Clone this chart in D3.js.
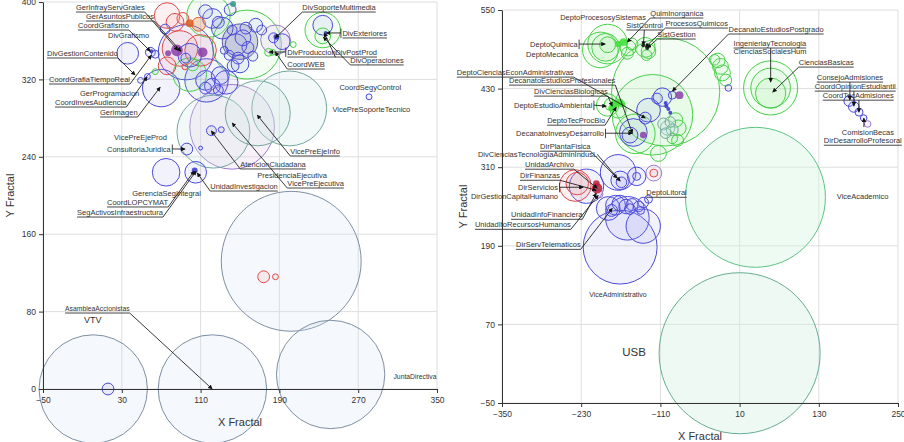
<!DOCTYPE html>
<html>
<head>
<meta charset="utf-8">
<script src="https://cdn.jsdelivr.net/npm/d3@7"></script>
<style>
body { margin: 0; background: #fff; }
svg text { font-family: "Liberation Sans", Arial, sans-serif; fill: #333; }
.tick text { font-size: 8.5px; fill: #333; }
.tick line, .domain { stroke: #333; }
.grid line { stroke: #dedede; stroke-width: 1; }
</style>
</head>
<body>
<svg id="chart" width="904" height="442"></svg>
<script>
// Ticks
var leftXTicks = [-50, 30, 110, 190, 270, 350];
var leftYTicks = [0, 80, 160, 240, 320, 400];
var rightXTicks = [-350, -230, -110, 10, 130, 250];
var rightYTicks = [-50, 70, 190, 310, 430, 550];

// Left panel bubbles: [x fractal, y fractal, radius]
var leftGray = [[1, 0, 55], [122, 0, 55], [242, 15, 55], [202, 132, 71]];
var leftTeal = [[200, 290, 38], [168, 285, 33], [123, 266, 37]];
var leftPurple = [[142, 271, 43], [186, 361, 15]];
var leftSlate = [[150, 359, 18]];
var leftBlue = [
  [16, 0, 6], [121, 267, 5], [131, 268, 3], [96, 248, 6], [110, 249, 2], [75, 224, 14], [105, 224, 11], [281, 302, 3],
  [36, 347, 11], [59, 348, 5], [64, 346, 4], [49, 319, 3], [56, 323, 3], [70, 311, 19],
  [95, 348, 28], [99, 345, 12], [95, 342, 5], [74, 372, 5], [122, 383, 10], [115, 390, 7], [140, 392, 6],
  [132, 373, 11], [128, 379, 6], [146, 356, 11], [153, 363, 8], [158, 353, 6], [139, 345, 5], [134, 350, 4],
  [163, 344, 5], [148, 342, 6], [156, 373, 6], [142, 371, 5], [166, 376, 7], [172, 371, 5],
  [193, 359, 8], [184, 363, 5], [150, 336, 9], [143, 334, 6], [115, 319, 10], [122, 313, 8], [130, 324, 9],
  [136, 317, 12], [128, 309, 5], [115, 311, 6], [116, 319, 22], [234, 376, 10]
];
var leftGreen = [[64, 328, 3], [118, 386, 22], [157, 356, 35], [99, 325, 17], [102, 335, 6], [179, 348, 4],
  [183, 348, 3], [204, 356, 3], [234, 371, 18], [234, 365, 8]];
var leftRed = [[174, 116, 6], [186, 116, 3], [76, 386, 13], [84, 379, 9], [92, 383, 6], [89, 352, 18],
  [110, 350, 16], [76, 334, 9], [94, 333, 3]];
var leftOrange = [[108, 377, 7]];
var leftDots = [[104, 226, 3, "b"], [86, 350, 6, "p"], [112, 348, 5, "p"], [77, 347, 3, "p"], [99, 378, 4, "o"],
  [143, 398, 3, "t"], [187, 364, 3, "b"], [237, 368, 2, "b"], [60, 349, 2, "b"]];

// Right panel bubbles
var rightUsb = [[10, 26, 122]];
var rightAcad = [[34, 264, 106]];
var rightGreen = [
  [-102, 425, 82], [-122, 390, 61], [-148, 361, 30], [-190, 498, 30], [-193, 493, 21], [-190, 497, 12],
  [-201, 489, 27], [-159, 492, 12], [-153, 498, 9], [-160, 484, 9], [-133, 493, 15], [-128, 487, 11],
  [-131, 481, 8], [-190, 405, 17], [-186, 406, 9], [-174, 397, 12], [-87, 382, 11], [-83, 370, 12],
  [-84, 351, 9], [-92, 354, 8], [-23, 473, 11], [-19, 464, 12], [-16, 454, 12], [-11, 443, 9], [-28, 474, 8],
  [57, 431, 41], [57, 431, 30], [57, 423, 23], [-113, 331, 12]
];
var rightTeal = [[-105, 376, 9], [-99, 370, 11], [-102, 362, 8], [-92, 367, 9], [-95, 379, 8]];
var rightBlue = [
  [-171, 188, 56], [-128, 397, 18], [-133, 385, 9], [-151, 363, 21], [-156, 359, 12], [-107, 417, 14],
  [-115, 415, 8], [-92, 420, 6], [-7, 431, 5], [176, 411, 8], [183, 402, 8], [191, 394, 6], [198, 385, 5],
  [-222, 281, 26], [-174, 302, 27], [-171, 290, 14], [-169, 287, 8], [-146, 296, 14], [-146, 296, 6],
  [-189, 247, 18], [-178, 252, 15], [-171, 255, 12], [-162, 250, 11], [-153, 253, 9], [-143, 250, 8],
  [-136, 256, 8], [-128, 261, 6], [-140, 244, 6], [-156, 246, 8], [-184, 244, 9], [-136, 220, 26], [-160, 232, 33]
];
var rightRed = [[-239, 282, 24], [-236, 285, 17], [-120, 301, 6]];
var rightPurple = [[-120, 301, 12], [204, 376, 5], [-203, 269, 6]];
var rightDots = [[-166, 501, 6, "l"], [-174, 498, 5, "l"], [-180, 406, 6, "l"], [-172, 409, 6, "l"],
  [-168, 406, 5, "l"], [-184, 400, 5, "l"], [-136, 359, 5, "p"], [-81, 420, 6, "p"], [-102, 408, 3, "b"],
  [-101, 403, 3, "b"], [-98, 399, 3, "b"], [-95, 393, 3, "b"], [-206, 278, 8, "r"], [-207, 285, 5, "r"],
  [-136, 496, 3, "k"], [-130, 492, 3, "k"]];

// Labels: [text, x, y, style, targetX, targetY, startX]
// style: u = underlined, r/l = leader from right/left end, m = leader from startX,
// R/L = bar then arrow on right/left side, M = leader from startX above the text
var leftLabels = [
  ["GerInfrayServGrales", -16.5, 391.7, "ur", 87, 350],
  ["GerAsuntosPublicos", -6.3, 382.4, "ur", 90, 349],
  ["CoordGrafismo", -14.4, 373.1, "ur", 59, 349],
  ["DivGrafismo", 16, 362.8, ""],
  ["DivGestionContenido", -45.9, 344.2, "ur", 43.5, 324.5],
  ["CoordGrafiaTiempoReal", -43.9, 317.3, "ur", 60, 345],
  ["GerProgramacion", -12.4, 302.8, ""],
  ["CoordInvesAudiencia", -37.8, 293.5, "ur", 55.7, 322.5],
  ["GerImagen", 7.9, 283.2, "ur", 69, 312],
  ["VicePreEjeProd", 22.2, 257.4, ""],
  ["ConsultoriaJuridica", 15, 245, "R", 94.3, 248],
  ["GerenciaSegIntegral", 40.5, 199.5, ""],
  ["CoordLOPCYMAT", 15, 190.2, "ur", 103.5, 225.3],
  ["SegActivosInfraestructura", -15.4, 179.8, "ur", 105.5, 225.3],
  ["UnidadInvestigacion", 119.8, 206.7, "ul", 106.5, 223.3],
  ["AtencionCiudadana", 150.3, 229.5, "ul", 120.8, 266.7],
  ["PresidenciaEjecutiva", 167.5, 218.1, ""],
  ["VicePreEjecutiva", 198, 209.8, "ul", 142, 275],
  ["VicePreEjeInfo", 201.1, 242.9, "ul", 167.5, 283.2],
  ["DivSoporteMultimedia", 213.3, 391.7, "ul", 185.8, 362.8],
  ["DivExteriores", 254, 364.9, "uL", 237.7, 368],
  ["DivProduccion", 198, 345.2, "uL", 179.7, 348.3],
  ["DivPostProd", 246.8, 345.2, "ul", 235.6, 368],
  ["DivOperaciones", 262, 337, "ul", 234.6, 363.8],
  ["CoordWEB", 198, 332.8, "ul", 185.8, 348.3],
  ["CoordSegyControl", 250.9, 309, ""],
  ["VicePreSoporteTecnico", 243.8, 286.3, ""],
  ["AsambleaAccionistas", -27.6, 80.6, "ur", 121.8, 0],
  ["VTV", -8.3, 68.2, ""],
  ["JuntaDirectiva", 305.8, 10.3, ""]
];
var rightLabels = [
  ["DeptoProcesosySistemas", -261.9, 534.7, ""],
  ["QuimInorganica", -125.2, 540.8, "ul", -160.1, 501],
  ["ProcesosQuimicos", -102.4, 525.5, "ul", -132.8, 493.4],
  ["SistControl", -161.6, 522.5, "um", -135.8, 496, -134.3],
  ["SistGestion", -114.6, 508.7, "ul", -129.7, 491.9],
  ["DeptoQuimica", -307.5, 493.4, "R", -193.5, 498],
  ["DeptoMecanica", -313.5, 478.1, ""],
  ["DeptoCienciasEconAdministrativas", -418.4, 450.6, "ur", -132.8, 384.9],
  ["DecanatoEstudiosProfesionales", -339.4, 438.4, "ur", -152.5, 361.9],
  ["DivCienciasBiologicas", -301.4, 421.6, "ur", -182.9, 403.2],
  ["DeptoEstudioAmbiental", -331.8, 400.2, "R", -192, 403.2],
  ["DeptoTecProcBio", -281.6, 377.2, "ur", -176.8, 401.7],
  ["DecanatoInvesyDesarrollo", -328.7, 357.3, "R", -152.5, 361.9],
  ["DirPlantaFisica", -292.3, 337.5, "ur", -175.3, 293.1],
  ["DivCienciasTecnologiaAdminIndusL", -386.5, 325.2, "r", -170.8, 288.5],
  ["UnidadArchivo", -315.1, 310, "ur", -205.7, 277.8],
  ["DirFinanzas", -322.7, 293.1, "ur", -207.2, 274.8],
  ["DirServicios", -325.7, 274.8, "R", -227, 279.4],
  ["DirGestionCapitalHumano", -397.1, 261, ""],
  ["UnidadInfoFinanciera", -336.3, 233.5, "ur", -207.2, 270.2],
  ["UnidadIfoRecursosHumanos", -391, 218.2, "ur", -204.2, 267.1],
  ["DirServTelematicos", -328.7, 187.6, "ur", -182.9, 247.3],
  ["DeptoLitoral", -131.3, 267.1, "u"],
  ["ViceAdministrativo", -217.8, 111.2, ""],
  ["USB", -167.7, 22.5, ""],
  ["ViceAcademico", 157.3, 261, ""],
  ["DecanatoEstudiosPostgrado", -6.7, 516.4, "ul", -91.8, 426.2],
  ["IngenieriayTecnologia", 0.9, 495, "um", 57.1, 439.9, 57.1],
  ["CienciasSocialesHum", 0.9, 482.7, ""],
  ["CienciasBasicas", 99.6, 465.9, "ul", 60.1, 424.6],
  ["ConsejoAdmisiones", 127, 443, "um", 177.1, 412.4, 177.1],
  ["CoordOpinionEstudiantil", 124, 429.2, "um", 183.2, 403.2, 183.2],
  ["CoordTecAdmisiones", 136.1, 415.4, "um", 190.8, 394, 190.8],
  ["ComisionBecas", 164.9, 358.9, "M", 198.3, 385, 198.3],
  ["DirDesarrolloProfesoral", 137.6, 346.6, "u"]
];

var labelSize = { VTV: 9, USB: 11.5, AsambleaAccionistas: 6.8, JuntaDirectiva: 6.8, ViceAdministrativo: 7 };

var ringStyle = {
  gray:   { stroke: "#7e8fa4", fill: "rgba(214,225,244,0.24)" },
  teal:   { stroke: "#72a89e", fill: "rgba(210,232,228,0.26)" },
  purple: { stroke: "#9d7bcb", fill: "rgba(232,210,240,0.32)" },
  slate:  { stroke: "#5a5aa6", fill: "rgba(110,110,165,0.28)" },
  blue:   { stroke: "#4a4ad8", fill: "rgba(135,135,240,0.11)" },
  green:  { stroke: "#48d048", fill: "rgba(140,232,140,0.10)" },
  red:    { stroke: "#e04a4a", fill: "rgba(240,140,140,0.13)" },
  orange: { stroke: "#e8622c", fill: "rgba(240,130,80,0.30)" },
  usb:    { stroke: "#66ad92", fill: "rgba(212,240,227,0.40)" },
  acad:   { stroke: "#5cc483", fill: "rgba(212,246,224,0.40)" }
};
var dotFill = { l: "#3fe03a", p: "#8a3fa6", b: "#3434c8", r: "#b8203c", o: "#e05a20", t: "#2a9a8a", k: "#111" };

var svg = d3.select("#chart");

svg.append("defs").append("marker")
    .attr("id", "arrow")
    .attr("viewBox", "0 0 10 10")
    .attr("refX", 9).attr("refY", 5)
    .attr("markerWidth", 5).attr("markerHeight", 5)
    .attr("orient", "auto")
  .append("path")
    .attr("d", "M0,0L10,5L0,10z")
    .attr("fill", "#111");

function drawPanel(p) {
  var x = d3.scaleLinear().domain(p.xDomain).range(p.xRange);
  var y = d3.scaleLinear().domain(p.yDomain).range(p.yRange);
  var rad = function(v) { return Math.abs(x(v) - x(0)); };
  var g = svg.append("g");

  // gridlines
  var grid = g.append("g").attr("class", "grid");
  grid.selectAll("line.v").data(p.xTicks).join("line")
      .attr("class", "v")
      .attr("x1", d => x(d)).attr("x2", d => x(d))
      .attr("y1", p.yRange[0]).attr("y2", p.yRange[1]);
  grid.selectAll("line.h").data(p.yTicks).join("line")
      .attr("class", "h")
      .attr("x1", p.xRange[0]).attr("x2", p.xRange[1])
      .attr("y1", d => y(d)).attr("y2", d => y(d));

  // bubbles, largest first
  var bubbles = [];
  p.groups.forEach(function(grp) {
    grp[1].forEach(function(d) { bubbles.push({ kind: grp[0], x: d[0], y: d[1], r: d[2] }); });
  });
  bubbles.sort((a, b) => b.r - a.r);

  g.append("g").selectAll("circle").data(bubbles).join("circle")
      .attr("cx", d => x(d.x))
      .attr("cy", d => y(d.y))
      .attr("r", d => rad(d.r))
      .attr("fill", d => ringStyle[d.kind].fill)
      .attr("stroke", d => ringStyle[d.kind].stroke)
      .attr("stroke-width", 1);

  g.append("g").selectAll("circle").data(p.dots).join("circle")
      .attr("cx", d => x(d[0]))
      .attr("cy", d => y(d[1]))
      .attr("r", d => rad(d[2]))
      .attr("fill", d => dotFill[d[3]])
      .attr("fill-opacity", 0.85);

  // axes
  g.append("g")
      .attr("transform", "translate(0," + p.yRange[0] + ")")
      .call(d3.axisBottom(x).tickValues(p.xTicks).tickSize(4).tickSizeOuter(0).tickPadding(4));
  g.append("g")
      .attr("transform", "translate(" + p.xRange[0] + ",0)")
      .call(d3.axisLeft(y).tickValues(p.yTicks).tickSize(4).tickSizeOuter(0).tickPadding(3));

  var xMid = (p.xRange[0] + p.xRange[1]) / 2;
  var yMid = (p.yRange[0] + p.yRange[1]) / 2;
  g.append("text")
      .attr("x", xMid).attr("y", p.xTitleY)
      .attr("text-anchor", "middle")
      .style("font-size", "11px")
      .text("X Fractal");
  g.append("text")
      .attr("transform", "translate(" + p.yTitleX + "," + yMid + ") rotate(-90)")
      .attr("text-anchor", "middle")
      .style("font-size", "11px")
      .text("Y Fractal");

  // labels with leader lines
  var lg = g.append("g");
  p.labels.forEach(function(l) {
    var x0 = x(l[1]), y0 = y(l[2]), style = l[3];
    var t = lg.append("text")
        .attr("x", x0).attr("y", y0)
        .style("font-size", (labelSize[l[0]] || 7.5) + "px")
        .text(l[0]);
    var w = t.node().getComputedTextLength();
    var under = style.indexOf("u") >= 0;
    var lead = style.replace("u", "");
    if (under) {
      lg.append("line")
          .attr("x1", x0).attr("x2", x0 + w)
          .attr("y1", y0 + 2).attr("y2", y0 + 2)
          .attr("stroke", "#333").attr("stroke-width", 0.9);
    }
    if (!lead) return;
    var sx, sy;
    if (lead === "r") { sx = x0 + w; sy = under ? y0 + 2 : y0 - 3; }
    else if (lead === "l") { sx = x0; sy = y0 + 2; }
    else if (lead === "m") { sx = x(l[6]); sy = y0 + 2; }
    else if (lead === "M") { sx = x(l[6]); sy = y0 - 8; }
    else if (lead === "R" || lead === "L") {
      sx = lead === "R" ? x0 + w + 1.5 : x0 - 1.5;
      sy = y0 - 3;
      lg.append("line")
          .attr("x1", sx).attr("x2", sx)
          .attr("y1", y0 - 7.5).attr("y2", y0 + 2)
          .attr("stroke", "#333").attr("stroke-width", 0.9);
    }
    lg.append("line")
        .attr("x1", sx).attr("y1", sy)
        .attr("x2", x(l[4])).attr("y2", y(l[5]))
        .attr("stroke", "#222").attr("stroke-width", 0.9)
        .attr("marker-end", "url(#arrow)");
  });
}

drawPanel({
  xDomain: [-50, 350], xRange: [43, 437],
  yDomain: [0, 400], yRange: [389, 2],
  xTicks: leftXTicks, yTicks: leftYTicks,
  xTitleY: 426, yTitleX: 14,
  groups: [["gray", leftGray], ["teal", leftTeal], ["purple", leftPurple], ["slate", leftSlate],
           ["blue", leftBlue], ["green", leftGreen], ["red", leftRed], ["orange", leftOrange]],
  dots: leftDots,
  labels: leftLabels
});

drawPanel({
  xDomain: [-350, 250], xRange: [502, 898],
  yDomain: [-50, 550], yRange: [403, 10],
  xTicks: rightXTicks, yTicks: rightYTicks,
  xTitleY: 440, yTitleX: 467,
  groups: [["usb", rightUsb], ["acad", rightAcad], ["green", rightGreen], ["teal", rightTeal],
           ["blue", rightBlue], ["red", rightRed], ["purple", rightPurple]],
  dots: rightDots,
  labels: rightLabels
});
</script>
</body>
</html>
